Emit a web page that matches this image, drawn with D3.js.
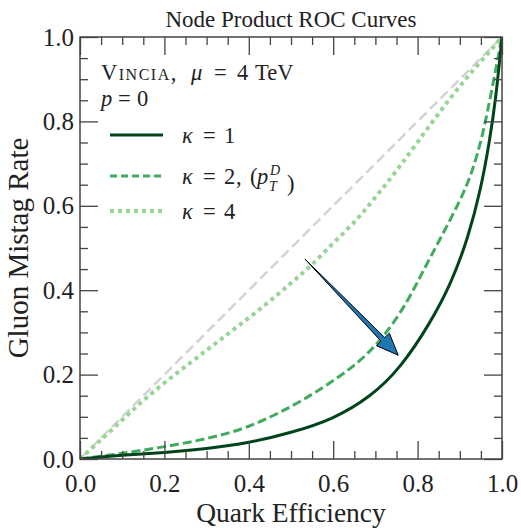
<!DOCTYPE html>
<html>
<head>
<meta charset="utf-8">
<script src="https://cdn.jsdelivr.net/npm/d3@7"></script>
<style>
  body { margin: 0; background: #fff; }
  text { font-family: "Liberation Serif", "DejaVu Serif", serif; fill: #222; }
</style>
</head>
<body>
<script>
// quark efficiency / gluon mistag pairs
var k1_x = [0, 0.05, 0.1, 0.2, 0.3, 0.4, 0.5, 0.6, 0.69, 0.76, 0.83, 0.88, 0.92, 0.95, 0.97, 0.985, 1.0];
var k1_y = [0, 0.005, 0.009, 0.015, 0.024, 0.038, 0.062, 0.094, 0.148, 0.216, 0.322, 0.417, 0.525, 0.64, 0.75, 0.85, 1.0];

var k2_x = [0, 0.05, 0.1, 0.2, 0.3, 0.4, 0.5, 0.58, 0.66, 0.72, 0.775, 0.81, 0.85, 0.9, 0.93, 0.955, 0.975, 1.0];
var k2_y = [0, 0.007, 0.013, 0.029, 0.047, 0.074, 0.123, 0.171, 0.227, 0.289, 0.37, 0.44, 0.515, 0.61, 0.68, 0.77, 0.87, 1.0];

var k4_x = [0, 0.08, 0.16, 0.26, 0.355, 0.44, 0.5, 0.545, 0.6, 0.656, 0.695, 0.758, 0.837, 0.916, 0.98, 1.0];
var k4_y = [0, 0.073, 0.15, 0.227, 0.30, 0.365, 0.417, 0.455, 0.512, 0.566, 0.614, 0.692, 0.803, 0.905, 0.976, 1.0];

var diag_x = [0, 1];
var diag_y = [0, 1];

var major_ticks = [0, 0.2, 0.4, 0.6, 0.8, 1.0];
var tick_labels = ["0.0", "0.2", "0.4", "0.6", "0.8", "1.0"];

// arrow start / end in data coords
var arrow_from = [0.533, 0.474];
var arrow_to = [0.754, 0.246];

var margin = {left: 80, top: 37, right: 19, bottom: 69};
var W = 521, H = 528;
var w = W - margin.left - margin.right;
var h = H - margin.top - margin.bottom;

var svg = d3.select("body").append("svg")
            .attr("width", W)
            .attr("height", H);

var g = svg.append("g").attr("transform", "translate(" + margin.left + "," + margin.top + ")");

var x = d3.scaleLinear().domain([0, 1]).range([0, w]);
var y = d3.scaleLinear().domain([0, 1]).range([h, 0]);

var zip = function(xs, ys) {
    return xs.map(function(d, i) { return [d, ys[i]]; });
};

var line = d3.line()
             .x(function(d) { return x(d[0]); })
             .y(function(d) { return y(d[1]); })
             .curve(d3.curveBasis);

g.append("clipPath").attr("id", "clip")
 .append("rect").attr("width", w).attr("height", h);

var curves = g.append("g").attr("clip-path", "url(#clip)");

curves.append("path").datum(zip(diag_x, diag_y))
      .attr("d", line).attr("fill", "none")
      .attr("stroke", "#d3d3d3").attr("stroke-width", 2.5)
      .attr("stroke-dasharray", "10,5");

curves.append("path").datum(zip(k4_x, k4_y))
      .attr("d", line).attr("fill", "none")
      .attr("stroke", "#98d594").attr("stroke-width", 4)
      .attr("stroke-dasharray", "4,4");

curves.append("path").datum(zip(k2_x, k2_y))
      .attr("d", line).attr("fill", "none")
      .attr("stroke", "#41ab5d").attr("stroke-width", 3)
      .attr("stroke-dasharray", "9,4");

curves.append("path").datum(zip(k1_x, k1_y))
      .attr("d", line).attr("fill", "none")
      .attr("stroke", "#00441b").attr("stroke-width", 3);

// arrow, tapered shaft with a head
var draw_arrow = function(from, to) {
    var x0 = x(from[0]), y0 = y(from[1]);
    var x1 = x(to[0]), y1 = y(to[1]);
    var dx = x1 - x0, dy = y1 - y0;
    var len = Math.sqrt(dx*dx + dy*dy);
    var ux = dx/len, uy = dy/len;
    var nx = -uy, ny = ux;
    var head_len = 22, head_w = 9, shaft_w = 2.6;
    var bx = x1 - ux*head_len, by = y1 - uy*head_len;
    var pts = [
        [x0, y0],
        [bx + nx*shaft_w, by + ny*shaft_w],
        [bx + nx*head_w, by + ny*head_w],
        [x1, y1],
        [bx - nx*head_w, by - ny*head_w],
        [bx - nx*shaft_w, by - ny*shaft_w]
    ];
    g.append("path")
     .attr("d", "M" + pts.map(function(p) { return p.join(","); }).join("L") + "Z")
     .attr("fill", "#1f77b4").attr("stroke", "#000").attr("stroke-width", 1)
     .attr("stroke-linejoin", "miter");
};
draw_arrow(arrow_from, arrow_to);

// axes, ticks pointing inwards on all four sides
var minor_ticks = d3.range(0, 1.0001, 0.05).filter(function(d) {
    return major_ticks.every(function(m) { return Math.abs(m - d) > 1e-6; });
});

var fmt = function(d) { return tick_labels[major_ticks.indexOf(d)]; };

var style_axis = function(sel) {
    sel.select(".domain").remove();
    sel.selectAll("line").attr("stroke", "#444").attr("stroke-width", 1.3);
    sel.selectAll("text").attr("font-size", 25).attr("fill", "#222")
       .attr("font-family", "Liberation Serif, DejaVu Serif, serif");
};

g.append("g").attr("transform", "translate(0," + h + ")")
 .call(d3.axisBottom(x).tickValues(major_ticks).tickSize(-18).tickPadding(15).tickFormat(fmt))
 .call(style_axis);
g.append("g").attr("transform", "translate(0," + h + ")")
 .call(d3.axisBottom(x).tickValues(minor_ticks).tickSize(-8).tickFormat(""))
 .call(style_axis);
g.append("g")
 .call(d3.axisLeft(y).tickValues(major_ticks).tickSize(-18).tickPadding(6).tickFormat(fmt))
 .call(style_axis);
g.append("g")
 .call(d3.axisLeft(y).tickValues(minor_ticks).tickSize(-8).tickFormat(""))
 .call(style_axis);
g.append("g")
 .call(d3.axisTop(x).tickValues(major_ticks).tickSize(-18).tickFormat(""))
 .call(style_axis);
g.append("g")
 .call(d3.axisTop(x).tickValues(minor_ticks).tickSize(-8).tickFormat(""))
 .call(style_axis);
g.append("g").attr("transform", "translate(" + w + ",0)")
 .call(d3.axisRight(y).tickValues(major_ticks).tickSize(-18).tickFormat(""))
 .call(style_axis);
g.append("g").attr("transform", "translate(" + w + ",0)")
 .call(d3.axisRight(y).tickValues(minor_ticks).tickSize(-8).tickFormat(""))
 .call(style_axis);

g.append("rect").attr("width", w).attr("height", h)
 .attr("fill", "none").attr("stroke", "#444").attr("stroke-width", 1.5);

// titles
svg.append("text").attr("x", margin.left + w/2).attr("y", 27)
   .attr("text-anchor", "middle").attr("font-size", 23)
   .text("Node Product ROC Curves");

svg.append("text").attr("x", margin.left + w/2).attr("y", 522)
   .attr("text-anchor", "middle").attr("font-size", 27.5)
   .text("Quark Efficiency");

svg.append("text")
   .attr("transform", "translate(28," + (margin.top + h/2) + ") rotate(-90)")
   .attr("text-anchor", "middle").attr("font-size", 29)
   .text("Gluon Mistag Rate");

// text made of pieces placed at given x positions (math-style spacing)
var pieces = function(baseline, parts) {
    var t = svg.append("text").attr("y", baseline).attr("font-size", 22.5);
    parts.forEach(function(p) {
        var s = t.append("tspan").attr("x", p[0]).text(p[1]);
        if (p[2] == "i") s.attr("font-style", "italic");
        if (p[2] == "sc") s.attr("font-variant", "small-caps").attr("letter-spacing", 1.5);
        if (p[3]) s.attr("font-size", p[3]);
        if (p[4]) s.attr("y", baseline + p[4]);
    });
    return t;
};

// legend header
pieces(80, [[101, "Vincia,", "sc"], [191, "μ", "i"], [214, "="], [237, "4"], [255, "TeV"]]);
pieces(106, [[101, "p", "i"], [118, "="], [137, "0"]]);

// legend entries
var legend_rows = [
    {y: 135, stroke: "#00441b", width: 3, dash: null, k: "1"},
    {y: 176, stroke: "#41ab5d", width: 3, dash: "7,4", k: "2"},
    {y: 211, stroke: "#98d594", width: 4, dash: "4,4", k: "4"}
];

legend_rows.forEach(function(r) {
    svg.append("line").attr("x1", 110).attr("x2", 163)
       .attr("y1", r.y).attr("y2", r.y)
       .attr("stroke", r.stroke).attr("stroke-width", r.width)
       .attr("stroke-dasharray", r.dash);
    var b = r.y + 8;
    var parts = [[182, "κ", "i"], [203, "="], [224, r.k]];
    if (r.k == "2") {
        parts = parts.concat([[236, ","], [250, "("], [257, "p", "i"],
                              [270, "D", "i", 14, -9], [269, "T", "i", 14, 7],
                              [287, ")"]]);
    }
    pieces(b, parts);
});
</script>
</body>
</html>
